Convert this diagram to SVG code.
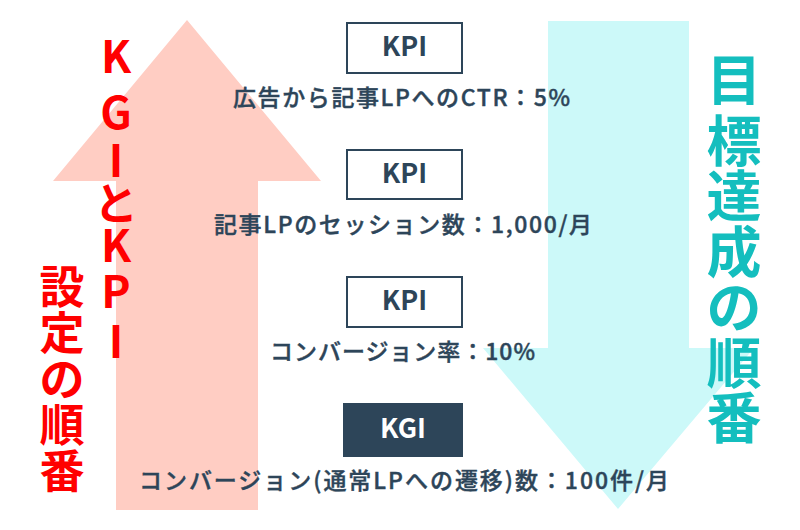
<svg xmlns="http://www.w3.org/2000/svg" width="800" height="530" viewBox="0 0 800 530">
<style>
.lbl{font-family:"Noto Sans CJK JP","Noto Sans",sans-serif;font-size:23px;font-weight:500;fill:#2D4559;stroke:#2D4559;stroke-width:0.4}
.box{fill:#FFFFFF;stroke:#2D4559;stroke-width:2}
.boxk{fill:#2D4559;stroke:#2D4559;stroke-width:2}
.bt{font-family:"Noto Sans CJK JP","Noto Sans",sans-serif;font-size:27px;font-weight:700;fill:#2D4559;text-anchor:middle}
.btw{font-family:"Noto Sans CJK JP","Noto Sans",sans-serif;font-size:27px;font-weight:700;fill:#FFFFFF;text-anchor:middle}
.red{font-family:"Noto Sans CJK JP","Noto Sans",sans-serif;font-weight:700;fill:#FF0000;text-anchor:middle}
.teal{font-family:"Noto Sans CJK JP","Noto Sans",sans-serif;font-weight:700;fill:#14BEBE;text-anchor:middle;font-size:55px}
</style>
<rect width="800" height="530" fill="#FFFFFF"/>
<g id="connectors">
  <polygon id="up-arrow" points="187,20 321,181 258,181 258,510 116,510 116,181 53,181" fill="#FFCDC3"/>
  <polygon id="down-arrow" points="548,21 689,21 689,348 754,348 618,509 483,348 548,348" fill="#CCF9F9"/>
</g>
<g id="title-left">
  <text class="red" font-size="44"><tspan x="116" y="73">K</tspan><tspan x="116" y="129">G</tspan><tspan x="116" y="177">I</tspan><tspan x="116" y="220">と</tspan><tspan x="116" y="262">K</tspan><tspan x="116" y="308">P</tspan><tspan x="116" y="358">I</tspan></text>
  <text class="red" font-size="45"><tspan x="62" y="304">設</tspan><tspan x="62" y="350">定</tspan><tspan x="62" y="396">の</tspan><tspan x="62" y="442">順</tspan><tspan x="62" y="488">番</tspan></text>
</g>
<g id="title-right">
  <text class="teal"><tspan x="734" y="100">目</tspan><tspan x="734" y="161">標</tspan><tspan x="734" y="216">達</tspan><tspan x="734" y="272">成</tspan><tspan x="734" y="327">の</tspan><tspan x="734" y="383">順</tspan><tspan x="734" y="438">番</tspan></text>
</g>
<g id="kpi1">
  <rect class="box" x="347" y="23" width="115" height="50"/>
  <text class="bt" x="404.5" y="56">KPI</text>
  <text class="lbl" x="233" y="106" textLength="337" lengthAdjust="spacing">広告から記事LPへのCTR：5%</text>
</g>
<g id="kpi2">
  <rect class="box" x="347" y="150" width="115" height="49"/>
  <text class="bt" x="404.5" y="183">KPI</text>
  <text class="lbl" x="214" y="233" textLength="378" lengthAdjust="spacing">記事LPのセッション数：1,000/月</text>
</g>
<g id="kpi3">
  <rect class="box" x="347" y="277" width="115" height="50"/>
  <text class="bt" x="404.5" y="310">KPI</text>
  <text class="lbl" x="270" y="360" textLength="265" lengthAdjust="spacing">コンバージョン率：10%</text>
</g>
<g id="kgi">
  <rect class="boxk" x="344" y="404" width="118" height="52"/>
  <text class="btw" x="403" y="438">KGI</text>
  <text class="lbl" x="139" y="489" textLength="530" lengthAdjust="spacing">コンバージョン(通常LPへの遷移)数：100件/月</text>
</g>
</svg>
